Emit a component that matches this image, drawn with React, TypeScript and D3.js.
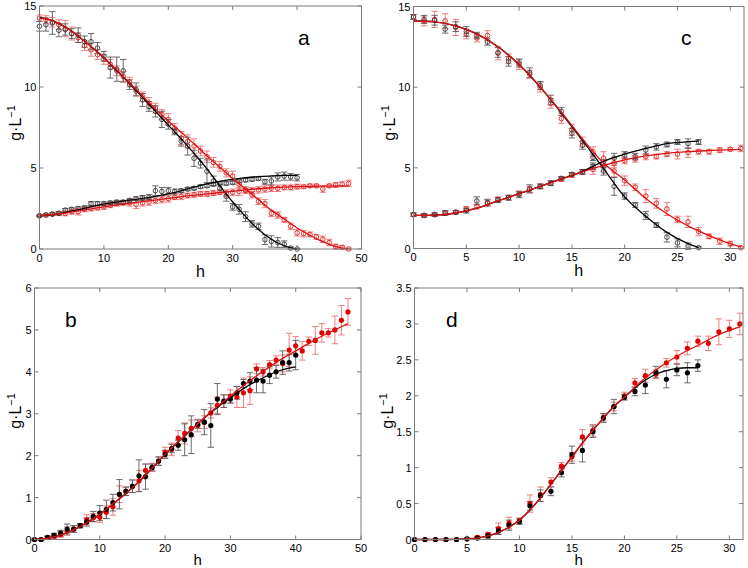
import React from "react";
import * as d3 from "d3";

// ---------- Panel a (h 0..40 black, 0..48 red) ----------
const A_SUB_K = [13.75,13.85,13.95,13.5,13.55,13.3,13.2,12.8,12.8,12.4,11.9,11.2,11.1,11.0,10.15,9.85,9.2,8.8,8.5,8.0,7.7,7.25,6.65,6.35,5.6,5.3,4.8,4.2,3.75,3.25,2.6,2.45,2.0,1.55,1.4,0.58,0.47,0.4,0.3,0.06,0.0];
const A_SUB_K_E = [0.3,0.4,0.7,0.4,0.35,0.3,0.45,0.35,0.5,0.35,0.3,0.65,0.75,0.7,0.3,0.4,0.4,0.3,0.35,0.5,0.3,0.2,0.3,0.55,0.5,0.3,0.7,0.3,0.25,0.3,0.2,0.3,0.3,0.2,0.2,0.3,0.35,0.3,0.2,0.05,0.02];
const A_SUB_R = [14.25,14.15,14.0,13.85,13.6,13.3,13.05,12.55,12.3,12.0,11.7,11.4,11.0,10.65,10.3,9.75,9.4,9.0,8.7,8.3,8.0,7.45,6.85,6.65,6.35,6.05,5.7,5.35,5.1,4.7,4.5,4.0,3.65,3.35,2.95,2.8,2.2,2.1,1.8,1.4,1.0,0.95,0.9,0.75,0.6,0.4,0.15,0.1,0.0];
const A_SUB_R_E = [0.2,0.25,0.3,0.3,0.5,0.4,0.3,0.3,0.4,0.3,0.3,0.3,0.3,0.3,0.3,0.3,0.3,0.35,0.3,0.3,0.35,0.3,0.4,0.4,0.45,0.3,0.35,0.3,0.3,0.25,0.3,0.25,0.2,0.2,0.2,0.25,0.2,0.2,0.15,0.2,0.2,0.2,0.15,0.15,0.2,0.2,0.15,0.1,0.05];
const A_PRD_K = [2.05,2.1,2.15,2.2,2.4,2.45,2.5,2.55,2.8,2.8,2.8,2.85,2.9,2.9,3.0,3.1,3.15,3.2,3.6,3.55,3.6,3.55,3.6,3.7,3.75,3.85,3.9,4.0,4.05,4.05,4.1,4.2,4.25,4.3,4.35,4.15,4.2,4.45,4.5,4.45,4.4];
const A_PRD_K_E = [0.05,0.05,0.08,0.1,0.1,0.1,0.1,0.1,0.12,0.12,0.1,0.1,0.1,0.1,0.1,0.12,0.15,0.15,0.3,0.25,0.2,0.15,0.1,0.1,0.1,0.1,0.1,0.1,0.1,0.1,0.1,0.1,0.1,0.1,0.1,0.15,0.25,0.25,0.25,0.2,0.2];
const A_PRD_R = [2.05,2.1,2.15,2.2,2.2,2.3,2.3,2.45,2.5,2.55,2.6,2.7,2.8,2.85,2.85,2.75,2.85,2.9,3.0,3.05,3.1,3.2,3.25,3.3,3.35,3.4,3.4,3.45,3.5,3.45,3.5,3.55,3.6,3.6,3.65,3.7,3.75,3.75,3.8,3.8,3.85,3.85,3.9,3.9,3.7,3.9,3.95,4.0,4.05];
const A_PRD_R_E = [0.05,0.05,0.08,0.1,0.15,0.15,0.2,0.15,0.15,0.15,0.15,0.15,0.15,0.15,0.2,0.25,0.2,0.2,0.2,0.2,0.2,0.15,0.2,0.15,0.15,0.15,0.15,0.15,0.15,0.2,0.2,0.25,0.15,0.2,0.2,0.2,0.2,0.2,0.15,0.15,0.15,0.1,0.1,0.1,0.2,0.1,0.15,0.15,0.2];
const A_FIT_HK = [0,2,4,6,8,10,12,14,16,18,20,22,24,26,28,30,32,34,36,38,40];
const A_FIT_HR = [0,2,4,6,8,10,12,14,16,18,20,22,24,26,28,30,32,34,36,38,40,42,44,46,48];
const A_FIT_SUB_K = [14.3,14.1,13.7,13.15,12.5,11.8,11.0,10.2,9.35,8.5,7.65,6.8,5.9,4.95,3.9,2.9,2.0,1.2,0.6,0.2,0.0];
const A_FIT_SUB_R = [14.25,14.1,13.7,13.15,12.5,11.8,11.05,10.25,9.45,8.65,7.9,7.2,6.5,5.75,5.05,4.35,3.7,3.05,2.4,1.85,1.3,0.85,0.45,0.15,0.0];
const A_FIT_PRD_K = [2.05,2.12,2.25,2.42,2.6,2.78,2.9,3.02,3.12,3.25,3.4,3.6,3.82,4.02,4.18,4.3,4.4,4.47,4.51,4.54,4.55];
const A_FIT_PRD_R = [2.05,2.12,2.22,2.35,2.48,2.6,2.72,2.82,2.92,3.02,3.12,3.23,3.32,3.4,3.48,3.56,3.65,3.72,3.78,3.82,3.85,3.87,3.88,3.89,3.9];

// ---------- Panel c (h 0..27 black, 0..31 red) ----------
const C_SUB_K = [14.35,14.2,14.15,13.6,13.75,13.45,13.2,12.8,12.15,11.6,11.5,10.9,10.1,9.2,8.5,7.15,6.4,5.65,4.8,3.85,3.25,2.7,2.05,1.45,0.7,0.35,0.15,0.05];
const C_SUB_K_E = [0.15,0.25,0.3,0.25,0.3,0.3,0.2,0.2,0.3,0.3,0.25,0.3,0.25,0.3,0.25,0.3,0.25,0.2,0.25,0.55,0.2,0.15,0.25,0.15,0.3,0.25,0.2,0.05];
const C_SUB_R = [14.35,14.1,14.2,14.1,13.7,13.3,13.05,13.2,12.1,11.75,11.4,10.8,10.0,9.0,8.05,7.35,6.6,6.0,5.6,4.8,4.2,3.8,3.25,2.8,2.45,1.8,1.65,1.05,0.75,0.45,0.3,0.05];
const C_SUB_R_E = [0.15,0.3,0.5,0.45,0.5,0.3,0.25,0.3,0.4,0.3,0.3,0.25,0.3,0.3,0.3,0.35,0.3,0.3,0.4,0.35,0.3,0.2,0.4,0.3,0.4,0.2,0.35,0.25,0.15,0.2,0.15,0.05];
const C_PRD_K = [2.1,2.05,2.1,2.2,2.25,2.35,2.95,2.85,3.0,3.15,3.35,3.7,3.85,4.05,4.35,4.6,4.75,5.1,5.25,5.6,5.8,5.7,6.1,6.3,6.45,6.6,6.5,6.6];
const C_PRD_K_E = [0.1,0.1,0.1,0.15,0.1,0.15,0.25,0.2,0.15,0.15,0.2,0.25,0.15,0.15,0.1,0.1,0.15,0.2,0.25,0.3,0.2,0.2,0.25,0.2,0.15,0.15,0.3,0.15];
const C_PRD_R = [2.1,2.05,2.1,2.2,2.25,2.45,2.6,2.8,3.05,3.15,3.4,3.65,3.85,4.05,4.3,4.55,4.75,4.9,5.1,5.3,5.45,5.55,5.7,5.7,5.85,5.85,5.95,6.0,6.0,6.1,6.15,6.2];
const C_PRD_R_E = [0.1,0.1,0.1,0.1,0.1,0.15,0.15,0.2,0.15,0.15,0.15,0.2,0.15,0.15,0.15,0.15,0.15,0.3,0.3,0.3,0.2,0.2,0.2,0.15,0.15,0.3,0.3,0.15,0.15,0.15,0.1,0.2];
const C_FIT_HK = [0,2,4,6,8,10,12,14,16,18,20,22,24,26,27];
const C_FIT_HR = [0,2,4,6,8,10,12,14,16,18,20,22,24,26,28,30,31];
const C_FIT_SUB_K = [14.1,14.05,13.8,13.3,12.5,11.4,10.0,8.4,6.7,4.95,3.2,2.0,1.0,0.3,0.05];
const C_FIT_SUB_R = [14.1,14.05,13.8,13.3,12.5,11.4,10.0,8.45,6.8,5.3,4.25,3.1,2.15,1.4,0.8,0.3,0.1];
const C_FIT_PRD_K = [2.05,2.07,2.2,2.5,2.95,3.4,3.85,4.32,4.78,5.4,5.85,6.2,6.5,6.62,6.65];
const C_FIT_PRD_R = [2.05,2.07,2.2,2.5,2.95,3.4,3.85,4.3,4.75,5.15,5.5,5.74,5.9,6.0,6.07,6.13,6.15];

// ---------- Panel b (h 0..40 black, 0..48 red) ----------
const B_K = [0,0,0.05,0.1,0.15,0.25,0.25,0.33,0.42,0.55,0.63,0.72,0.88,1.08,1.15,1.27,1.52,1.5,1.72,1.87,2.03,2.17,2.25,2.38,2.5,2.75,2.8,2.72,3.35,3.3,3.35,3.5,3.72,3.78,3.8,3.78,3.92,4.0,4.22,4.22,4.4];
const B_K_E = [0.01,0.02,0.03,0.05,0.07,0.12,0.08,0.05,0.1,0.12,0.18,0.22,0.2,0.35,0.1,0.15,0.38,0.3,0.08,0.1,0.1,0.1,0.12,0.38,0.45,0.1,0.3,0.52,0.37,0.15,0.1,0.15,0.1,0.2,0.3,0.28,0.2,0.15,0.28,0.2,0.35];
const B_R = [0,0,0.05,0.08,0.12,0.2,0.25,0.33,0.47,0.52,0.53,0.65,0.78,1.08,1.15,1.27,1.4,1.65,1.72,1.87,2.08,2.15,2.42,2.53,2.65,2.72,2.8,3.02,3.2,3.3,3.42,3.4,3.5,3.55,4.07,4.0,4.17,4.28,4.2,4.52,4.62,4.5,4.73,4.75,4.93,4.93,5.0,5.23,5.43];
const B_R_E = [0.01,0.02,0.03,0.05,0.07,0.1,0.08,0.05,0.12,0.1,0.12,0.15,0.2,0.2,0.1,0.15,0.25,0.15,0.1,0.1,0.12,0.15,0.18,0.25,0.2,0.15,0.15,0.12,0.2,0.15,0.15,0.25,0.35,0.33,0.12,0.1,0.1,0.1,0.2,0.4,0.22,0.22,0.1,0.33,0.22,0.1,0.33,0.35,0.32];
const B_FIT_HK = [0,2,4,6,8,10,12,14,16,18,20,22,24,26,28,30,32,34,36,38,40];
const B_FIT_HR = [0,2,4,6,8,10,12,14,16,18,20,22,24,26,28,30,32,34,36,38,40,42,44,46,48];
const B_FIT_K = [0,0.03,0.11,0.23,0.4,0.6,0.85,1.1,1.38,1.7,2.03,2.33,2.62,2.9,3.15,3.38,3.6,3.78,3.93,4.05,4.12];
const B_FIT_R = [0,0.03,0.11,0.23,0.4,0.6,0.85,1.1,1.38,1.7,2.03,2.33,2.62,2.9,3.17,3.42,3.67,3.9,4.12,4.32,4.5,4.68,4.85,5.0,5.15];

// ---------- Panel d (h 0..27 black, 0..31 red) ----------
const D_K = [0,0,0,0,0,0.01,0.02,0.05,0.12,0.2,0.25,0.47,0.61,0.67,0.93,1.18,1.24,1.5,1.69,1.85,1.98,2.06,2.15,2.33,2.23,2.36,2.32,2.42];
const D_K_E = [0,0,0,0,0,0.01,0.02,0.03,0.05,0.07,0.04,0.06,0.08,0.06,0.06,0.12,0.16,0.08,0.06,0.1,0.04,0.06,0.12,0.08,0.12,0.08,0.14,0.08];
const D_R = [0,0,0,0,0,0.01,0.03,0.07,0.15,0.23,0.26,0.5,0.63,0.8,1.02,1.15,1.43,1.52,1.7,1.85,2.0,2.18,2.28,2.3,2.46,2.54,2.66,2.76,2.73,2.89,2.93,3.0];
const D_R_E = [0,0,0,0,0,0.01,0.02,0.03,0.08,0.08,0.04,0.12,0.1,0.06,0.05,0.06,0.1,0.08,0.05,0.06,0.05,0.06,0.09,0.06,0.06,0.09,0.09,0.07,0.1,0.18,0.12,0.15];
const D_FIT_HK = [0,2,4,5,6,7,8,9,10,11,12,13,14,15,16,17,18,19,20,21,22,23,24,25,26,27];
const D_FIT_HR = [0,2,4,5,6,7,8,9,10,11,12,13,14,15,16,17,18,19,20,21,22,23,24,25,26,27,28,29,30,31];
const D_FIT_K = [0,0,0.003,0.01,0.02,0.05,0.1,0.17,0.27,0.41,0.58,0.77,0.96,1.15,1.34,1.52,1.69,1.85,1.98,2.11,2.22,2.3,2.35,2.38,2.39,2.39];
const D_FIT_R = [0,0,0.003,0.01,0.02,0.05,0.1,0.17,0.27,0.41,0.58,0.77,0.96,1.15,1.34,1.52,1.69,1.85,1.98,2.12,2.25,2.36,2.46,2.55,2.63,2.7,2.78,2.85,2.91,2.96];

const TICKS_X50 = [0,10,20,30,40,50];
const TICKS_X30 = [0,5,10,15,20,25,30];
const TICKS_Y15 = [0,5,10,15];
const TICKS_Y6 = [0,1,2,3,4,5,6];
const TICKS_Y35 = [0,0.5,1,1.5,2,2.5,3,3.5];

const FONT = "'Liberation Sans', Arial, Helvetica, sans-serif";
const AXIS = "#7a7a7a";
const COL = {
  k: { line: "#000000", mark: "#3a3a3a", err: "#5a5a5a" },
  r: { line: "#dd1111", mark: "#e02020", err: "#ee7070" },
};

type Series = { v: number[]; e: number[]; c: "k" | "r" };
type Fit = { h: number[]; v: number[]; c: "k" | "r" };
type PanelProps = {
  l: number; t: number; r: number; b: number;
  xMax: number; xTicks: number[]; yMax: number; yTicks: number[];
  series: Series[]; fits: Fit[]; filled: boolean;
  letter: string; lx: number; ly: number; ylx: number; yly: number; hOff: number; hSize: number;
};

function Panel(p: PanelProps) {
  const x = d3.scaleLinear().domain([0, p.xMax]).range([p.l, p.r]);
  const y = d3.scaleLinear().domain([0, p.yMax]).range([p.b, p.t]);
  const line = d3.line<[number, number]>().x(d => x(d[0])).y(d => y(d[1])).curve(d3.curveMonotoneX);
  const tl = 4;
  const cap = 3.2;
  return (
    <g>
      {p.series.map((s, si) => (
        <g key={"e" + si} stroke={COL[s.c].err} strokeWidth={0.9}>
          {s.v.map((v, i) => s.e[i] > 0 ? (
            <g key={i}>
              <line x1={x(i)} x2={x(i)} y1={y(v - s.e[i])} y2={y(v + s.e[i])} />
              <line x1={x(i) - cap} x2={x(i) + cap} y1={y(v - s.e[i])} y2={y(v - s.e[i])} />
              <line x1={x(i) - cap} x2={x(i) + cap} y1={y(v + s.e[i])} y2={y(v + s.e[i])} />
            </g>
          ) : null)}
        </g>
      ))}
      {p.series.map((s, si) => (
        <g key={"m" + si}>
          {s.v.map((v, i) => p.filled ? (
            <circle key={i} cx={x(i)} cy={y(v)} r={2.6} fill={s.c === "k" ? "#000" : "#e00000"} />
          ) : (
            <circle key={i} cx={x(i)} cy={y(v)} r={2.3} fill="none" stroke={COL[s.c].mark} strokeWidth={0.9} />
          ))}
        </g>
      ))}
      {p.fits.map((f, fi) => (
        <path key={"f" + fi} d={line(f.h.map((h, i) => [h, f.v[i]] as [number, number])) || ""}
          fill="none" stroke={COL[f.c].line} strokeWidth={1.3} />
      ))}
      <rect x={p.l} y={p.t} width={p.r - p.l} height={p.b - p.t} fill="none" stroke={AXIS} strokeWidth={1} />
      <g stroke={AXIS} strokeWidth={1}>
        {p.xTicks.map(t => (
          <g key={"xt" + t}>
            <line x1={x(t)} x2={x(t)} y1={p.b} y2={p.b - tl} />
            <line x1={x(t)} x2={x(t)} y1={p.t} y2={p.t + tl} />
          </g>
        ))}
        {p.yTicks.map(t => (
          <g key={"yt" + t}>
            <line x1={p.l} x2={p.l + tl} y1={y(t)} y2={y(t)} />
            <line x1={p.r} x2={p.r - tl} y1={y(t)} y2={y(t)} />
          </g>
        ))}
      </g>
      <g fontFamily={FONT} fontSize={11} fill="#000">
        {p.xTicks.map(t => (
          <text key={"xl" + t} x={x(t)} y={p.b + 12.5} textAnchor="middle">{String(t)}</text>
        ))}
        {p.yTicks.map(t => (
          <text key={"yl" + t} x={p.l - 3} y={y(t) + 4} textAnchor="end">{String(t)}</text>
        ))}
      </g>
      <text x={(p.l + p.r) / 2} y={p.b + p.hOff} textAnchor="middle" fontFamily={FONT} fontSize={p.hSize}>h</text>
      <text transform={`translate(${p.ylx},${p.yly}) rotate(-90)`} textAnchor="middle" fontFamily={FONT} fontSize={16}>
        g·L<tspan dy={-6} fontSize={11}>−1</tspan>
      </text>
      <text x={p.lx} y={p.ly} fontFamily={FONT} fontSize={21}>{p.letter}</text>
    </g>
  );
}

export default function App() {
  return (
    <div style={{ position: "absolute", left: 0, top: 0 }}>
      <svg width={748} height={568} style={{ display: "block", background: "#fff" }}>
        <Panel l={39.5} t={6} r={361.5} b={249} xMax={50} xTicks={TICKS_X50} yMax={15} yTicks={TICKS_Y15}
          series={[
            { v: A_SUB_R, e: A_SUB_R_E, c: "r" }, { v: A_PRD_R, e: A_PRD_R_E, c: "r" },
            { v: A_SUB_K, e: A_SUB_K_E, c: "k" }, { v: A_PRD_K, e: A_PRD_K_E, c: "k" },
          ]}
          fits={[
            { h: A_FIT_HK, v: A_FIT_SUB_K, c: "k" }, { h: A_FIT_HK, v: A_FIT_PRD_K, c: "k" },
            { h: A_FIT_HR, v: A_FIT_SUB_R, c: "r" }, { h: A_FIT_HR, v: A_FIT_PRD_R, c: "r" },
          ]}
          filled={false} letter="a" lx={298} ly={45} ylx={21} yly={123} hOff={27.5} hSize={16} />
        <Panel l={413.5} t={6.5} r={744} b={248.5} xMax={31.3} xTicks={TICKS_X30} yMax={15} yTicks={TICKS_Y15}
          series={[
            { v: C_SUB_R, e: C_SUB_R_E, c: "r" }, { v: C_PRD_R, e: C_PRD_R_E, c: "r" },
            { v: C_SUB_K, e: C_SUB_K_E, c: "k" }, { v: C_PRD_K, e: C_PRD_K_E, c: "k" },
          ]}
          fits={[
            { h: C_FIT_HK, v: C_FIT_SUB_K, c: "k" }, { h: C_FIT_HK, v: C_FIT_PRD_K, c: "k" },
            { h: C_FIT_HR, v: C_FIT_SUB_R, c: "r" }, { h: C_FIT_HR, v: C_FIT_PRD_R, c: "r" },
          ]}
          filled={false} letter="c" lx={681} ly={45} ylx={395} yly={123} hOff={27.5} hSize={16} />
        <Panel l={34.5} t={288} r={361} b={539.5} xMax={50} xTicks={TICKS_X50} yMax={6} yTicks={TICKS_Y6}
          series={[{ v: B_R, e: B_R_E, c: "r" }, { v: B_K, e: B_K_E, c: "k" }]}
          fits={[{ h: B_FIT_HK, v: B_FIT_K, c: "k" }, { h: B_FIT_HR, v: B_FIT_R, c: "r" }]}
          filled={true} letter="b" lx={65} ly={327} ylx={21} yly={411} hOff={25.5} hSize={15} />
        <Panel l={414.5} t={288} r={743} b={539.5} xMax={31.3} xTicks={TICKS_X30} yMax={3.5} yTicks={TICKS_Y35}
          series={[{ v: D_R, e: D_R_E, c: "r" }, { v: D_K, e: D_K_E, c: "k" }]}
          fits={[{ h: D_FIT_HK, v: D_FIT_K, c: "k" }, { h: D_FIT_HR, v: D_FIT_R, c: "r" }]}
          filled={true} letter="d" lx={446} ly={327} ylx={393} yly={411} hOff={25.5} hSize={15} />
      </svg>
    </div>
  );
}
